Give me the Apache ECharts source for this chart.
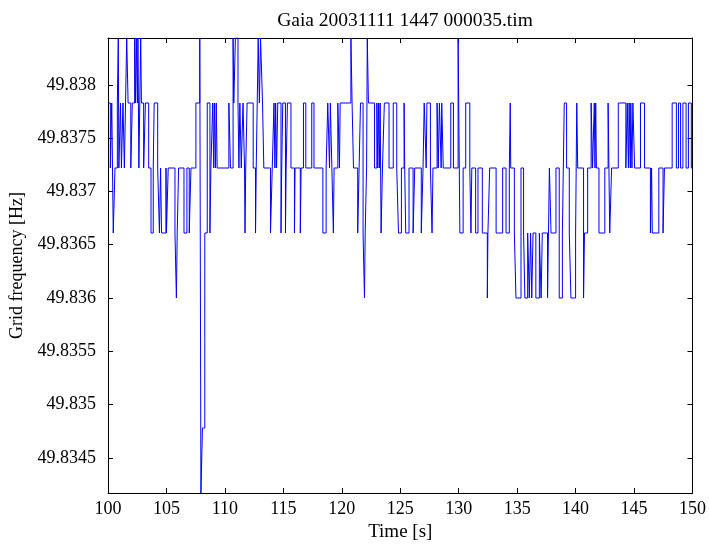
<!DOCTYPE html>
<html>
<head>
<meta charset="utf-8">
<script src="https://cdn.jsdelivr.net/npm/echarts@6/dist/echarts.min.js"></script>
<style>
html,body{margin:0;padding:0;background:#fff;}
#chart{width:709px;height:547px;}
</style>
</head>
<body>
<div id="chart"></div>
<script>
// Quantised frequency levels (Hz) seen in the record
const levelHz = [49.83417, 49.83478, 49.83539, 49.836, 49.83661, 49.83722, 49.83783, 49.83844];

// Times (s) at which the reading changes, and the level index held from that time
const stepTime = [
100.00,100.20,100.32,100.45,100.60,100.80,100.88,100.93,101.07,101.15,101.28,101.40,101.50,101.60,101.72,101.95,
102.08,102.28,102.36,102.42,102.52,102.56,102.64,102.72,102.80,102.86,103.05,103.20,103.48,103.68,103.87,103.95,
104.25,104.40,104.50,104.58,104.96,105.00,105.15,105.73,105.85,105.92,106.04,106.50,106.75,106.95,107.10,107.52,
107.85,107.95,108.08,108.28,108.49,108.72,108.80,108.96,109.05,109.10,109.20,109.26,109.34,110.34,110.48,110.70,
110.76,110.90,111.12,111.20,111.28,111.40,111.55,111.68,111.72,111.78,111.90,112.42,112.62,112.68,112.85,112.95,
113.05,113.22,113.33,113.90,114.05,114.20,114.28,114.34,114.42,114.52,114.80,114.86,114.95,115.18,115.24,115.35,
115.65,115.95,116.00,116.45,116.52,116.72,116.92,117.43,117.62,118.38,118.66,118.80,118.95,119.02,119.15,119.28,
119.34,119.66,119.80,119.86,120.78,120.88,121.00,121.36,121.48,121.60,121.82,121.94,122.00,122.12,122.18,122.28,
122.80,123.00,123.08,123.14,123.22,123.28,123.36,123.48,123.64,124.04,124.40,124.70,124.85,125.10,125.33,125.38,
125.47,125.75,126.10,126.24,126.80,126.95,127.05,127.22,127.28,127.58,127.72,127.80,128.15,128.25,128.35,128.50,
128.55,128.68,129.32,129.55,129.95,130.05,130.10,130.38,130.60,130.95,131.05,131.12,131.45,131.65,132.02,132.45,
132.50,132.65,133.20,133.76,134.05,134.33,134.41,134.45,134.76,134.90,135.33,135.55,135.66,135.90,136.04,136.15,
136.25,136.36,136.60,136.90,137.05,137.15,137.60,137.76,137.90,138.32,138.60,138.87,139.03,139.23,139.46,139.60,
140.00,140.10,140.18,140.68,140.76,141.03,141.33,141.45,141.60,141.66,141.72,141.78,142.00,142.50,142.78,142.92,
143.08,143.65,144.30,144.42,144.52,144.58,144.68,144.72,144.82,144.90,145.05,145.55,145.90,146.40,146.50,146.56,
147.12,147.48,147.60,148.26,148.62,148.80,148.98,149.18,149.45,149.65,149.90,150.00
];
const stepLevel = [
6,5,6,4,5,6,7,5,6,5,6,5,6,7,6,5,
6,7,6,7,6,7,5,6,7,6,5,6,5,4,5,6,
5,4,5,4,5,4,5,4,3,4,5,4,5,4,5,6,
7,0,1,4,6,4,5,6,5,6,5,6,5,6,5,7,
6,7,6,5,6,5,6,5,4,5,6,5,4,5,7,6,
7,6,5,4,5,6,5,6,5,6,4,5,6,4,5,6,
5,4,5,4,5,6,5,6,5,4,5,6,5,6,5,4,
5,6,5,6,7,6,5,4,5,6,4,3,4,5,7,6,
5,6,5,6,5,6,4,5,6,5,6,5,4,5,6,5,
4,5,4,5,4,5,6,5,6,5,4,5,6,5,6,5,
6,5,6,5,7,5,4,5,6,5,4,5,4,5,4,3,
4,5,4,5,4,5,6,5,4,3,5,4,3,4,3,4,
3,4,3,4,3,4,3,5,4,5,3,4,6,5,4,3,
4,6,5,3,4,5,6,5,6,5,6,5,4,5,6,4,
5,6,5,6,5,6,5,6,5,6,5,6,5,4,5,4,
5,4,5,6,5,6,5,6,5,6,5,5
];

// Axis ticks
const xTicks = [100,105,110,115,120,125,130,135,140,145,150];
const yTicks = [49.8345,49.835,49.8355,49.836,49.8365,49.837,49.8375,49.838];

const seriesData = stepTime.map((t, i) => [t, levelHz[stepLevel[i]]]);

const FONT = 'Liberation Serif';
const yMin = 49.83417, yMax = 49.83844;
const fmtY = v => String(Math.round(v * 1e4) / 1e4);

const chart = echarts.init(document.getElementById('chart'), null, {renderer: 'canvas'});
const tickStyle = {show: true, inside: true, length: 5, lineStyle: {color: '#000', width: 1}};
const axisLine = {show: true, onZero: false, lineStyle: {color: '#000', width: 1}};
chart.setOption({
  animation: false,
  backgroundColor: '#fff',
  title: {
    text: 'Gaia 20031111 1447 000035.tim',
    left: 400, top: 6, textAlign: 'center',
    textStyle: {fontFamily: FONT, fontSize: 19.5, fontWeight: 'normal', color: '#000'}
  },
  grid: {left: 108, right: 16, top: 38, bottom: 49, containLabel: false},
  xAxis: [{
    type: 'value', min: 100, max: 150, interval: 5,
    name: 'Time [s]', nameLocation: 'middle', nameGap: 30,
    nameTextStyle: {fontFamily: FONT, fontSize: 19, color: '#000'},
    axisLine: axisLine, axisTick: tickStyle,
    axisLabel: {fontFamily: FONT, fontSize: 18, color: '#000', margin: 7},
    splitLine: {show: false}
  }, {
    type: 'value', min: 100, max: 150, interval: 5, position: 'top',
    axisLine: axisLine, axisTick: tickStyle, axisLabel: {show: false}, splitLine: {show: false}
  }],
  yAxis: [{
    type: 'value', min: yMin, max: yMax,
    name: 'Grid frequency [Hz]', nameLocation: 'middle', nameGap: 80, nameRotate: 90,
    nameTextStyle: {fontFamily: FONT, fontSize: 18, color: '#000'},
    axisLine: axisLine,
    axisTick: Object.assign({customValues: yTicks}, tickStyle),
    axisLabel: {customValues: yTicks, formatter: fmtY, fontFamily: FONT, fontSize: 18, color: '#000', margin: 12},
    splitLine: {show: false}
  }, {
    type: 'value', min: yMin, max: yMax, position: 'right',
    axisLine: axisLine,
    axisTick: Object.assign({customValues: yTicks}, tickStyle),
    axisLabel: {show: false, customValues: yTicks},
    splitLine: {show: false}
  }],
  series: [{
    type: 'line', xAxisIndex: 0, yAxisIndex: 0,
    data: seriesData, step: 'end', showSymbol: false, symbol: 'none',
    lineStyle: {color: '#0000ff', width: 1},
    clip: true
  }]
});
</script>
</body>
</html>
